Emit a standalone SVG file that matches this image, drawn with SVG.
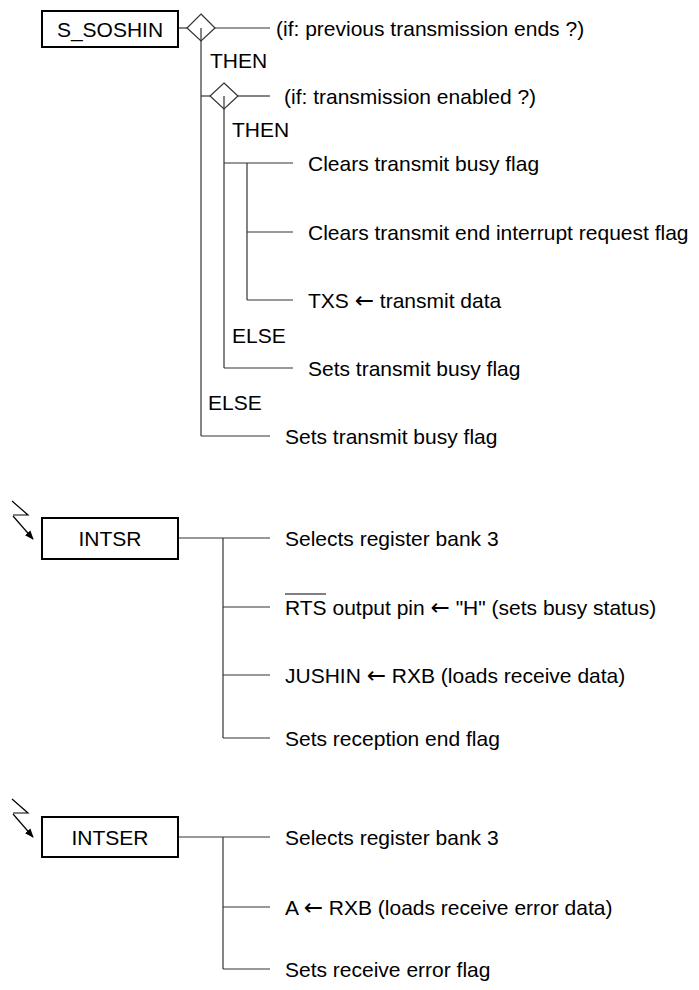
<svg xmlns="http://www.w3.org/2000/svg" width="699" height="990" viewBox="0 0 699 990">
<style>
text{font-family:"Liberation Sans",Arial,sans-serif;font-size:21px;fill:#000}
.ar{font-family:"DejaVu Sans",sans-serif;font-size:23px}
.box{fill:#fff;stroke:#000;stroke-width:2}
.ln{fill:none;stroke:#333;stroke-width:1.2}
.dia{fill:#fff;stroke:#333;stroke-width:1.2}
.bolt{fill:none;stroke:#000;stroke-width:1.2}
</style>
<defs>
<marker id="ah" viewBox="0 0 10 10" refX="9" refY="5" markerWidth="9" markerHeight="9" markerUnits="userSpaceOnUse" orient="auto">
<path d="M0,1 L10,5 L0,9 Z" fill="#000"/>
</marker>
</defs>
<g id="connectors">
<line class="ln" x1="178" y1="28" x2="187" y2="28"/>
<line class="ln" x1="215" y1="28" x2="270" y2="28"/>
<line class="ln" x1="201" y1="41" x2="201" y2="436"/>
<line class="ln" x1="201" y1="96" x2="210" y2="96"/>
<line class="ln" x1="238" y1="96" x2="270" y2="96"/>
<line class="ln" x1="224" y1="109" x2="224" y2="368"/>
<line class="ln" x1="224" y1="163" x2="293" y2="163"/>
<line class="ln" x1="247" y1="163" x2="247" y2="300"/>
<line class="ln" x1="247" y1="232" x2="293" y2="232"/>
<line class="ln" x1="247" y1="300" x2="293" y2="300"/>
<line class="ln" x1="224" y1="368" x2="293" y2="368"/>
<line class="ln" x1="201" y1="436" x2="270" y2="436"/>
<line class="ln" x1="178" y1="538" x2="270" y2="538"/>
<line class="ln" x1="223" y1="538" x2="223" y2="738"/>
<line class="ln" x1="223" y1="607" x2="270" y2="607"/>
<line class="ln" x1="223" y1="675" x2="270" y2="675"/>
<line class="ln" x1="223" y1="738" x2="270" y2="738"/>
<line class="ln" x1="178" y1="837" x2="270" y2="837"/>
<line class="ln" x1="223" y1="837" x2="223" y2="969"/>
<line class="ln" x1="223" y1="907" x2="270" y2="907"/>
<line class="ln" x1="223" y1="969" x2="270" y2="969"/>
<polyline class="bolt" points="12,501 28,515 13,515"/>
<line class="bolt" x1="13" y1="516" x2="33" y2="539" marker-end="url(#ah)"/>
<polyline class="bolt" points="12,799 28,813 13,813"/>
<line class="bolt" x1="13" y1="814" x2="33" y2="837" marker-end="url(#ah)"/>
</g>
<g id="diamond1"><polygon class="dia" points="201,14 215,28 201,41 187,28"/><line class="ln" x1="201" y1="28" x2="201" y2="41"/></g>
<g id="diamond2"><polygon class="dia" points="224,83 238,96 224,109 210,96"/><line class="ln" x1="224" y1="96" x2="224" y2="109"/></g>
<g id="s_soshin"><rect class="box" x="42" y="11" width="136" height="36"/><text x="110" y="37" text-anchor="middle">S_SOSHIN</text></g>
<g id="intsr"><rect class="box" x="42" y="518" width="136" height="41"/><text x="110" y="546" text-anchor="middle">INTSR</text></g>
<g id="intser"><rect class="box" x="42" y="817" width="136" height="40"/><text x="110" y="845" text-anchor="middle">INTSER</text></g>
<g id="labels">
<text x="276" y="36">(if: previous transmission ends ?)</text>
<text x="210" y="68">THEN</text>
<text x="284" y="104">(if: transmission enabled ?)</text>
<text x="232" y="137">THEN</text>
<text x="308" y="171">Clears transmit busy flag</text>
<text x="308" y="240">Clears transmit end interrupt request flag</text>
<text x="308" y="308">TXS <tspan class="ar">←</tspan> transmit data</text>
<text x="232" y="343">ELSE</text>
<text x="308" y="376">Sets transmit busy flag</text>
<text x="208" y="410">ELSE</text>
<text x="285" y="444">Sets transmit busy flag</text>
<text x="285" y="546">Selects register bank 3</text>
<text x="285" y="615">RTS output pin <tspan class="ar">←</tspan> "H" (sets busy status)</text>
<line x1="285" y1="594" x2="326" y2="594" stroke="#000" stroke-width="1.2"/>
<text x="285" y="683">JUSHIN <tspan class="ar">←</tspan> RXB (loads receive data)</text>
<text x="285" y="746">Sets reception end flag</text>
<text x="285" y="845">Selects register bank 3</text>
<text x="285" y="915">A <tspan class="ar">←</tspan> RXB (loads receive error data)</text>
<text x="285" y="977">Sets receive error flag</text>
</g>
</svg>
